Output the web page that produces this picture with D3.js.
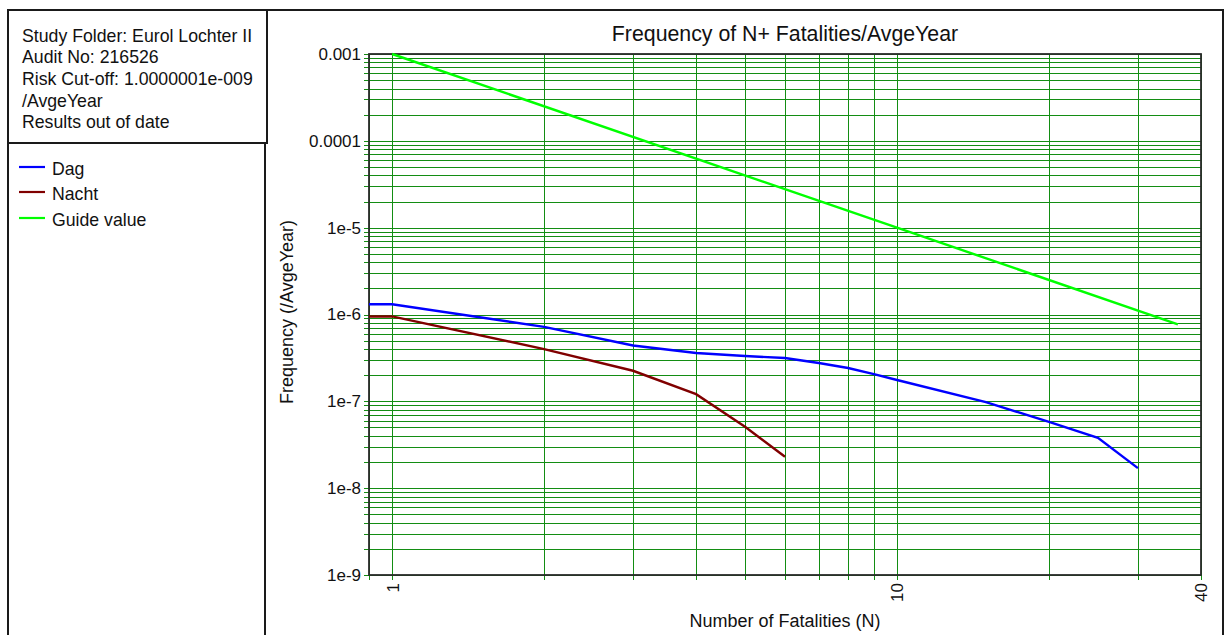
<!DOCTYPE html>
<html>
<head>
<meta charset="utf-8">
<script src="https://cdn.jsdelivr.net/npm/d3@7"></script>
<style>
  body { margin: 0; background: #fff; }
  svg { display: block; font-family: "Liberation Sans", Arial, sans-serif; }
</style>
</head>
<body>
<div id="container"></div>
<script>
/* DATA */
const dagN   = [0.9, 1, 2, 3, 4, 5, 6, 7, 8, 9, 10, 15, 20, 25, 30];
const dagF   = [1.31e-6, 1.31e-6, 7.2e-7, 4.4e-7, 3.6e-7, 3.33e-7, 3.15e-7, 2.76e-7, 2.42e-7, 2.06e-7, 1.76e-7, 9.8e-8, 5.8e-8, 3.8e-8, 1.7e-8];
const nachtN = [0.9, 1, 2, 3, 4, 5, 6];
const nachtF = [9.5e-7, 9.5e-7, 4.0e-7, 2.25e-7, 1.21e-7, 5.1e-8, 2.3e-8];
const guideN = [1, 10, 36];
const guideF = [1e-3, 1e-5, 7.7e-7];

const yLabelValues = [1e-9, 1e-8, 1e-7, 1e-6, 1e-5, 1e-4, 1e-3];
const yLabels      = ["1e-9", "1e-8", "1e-7", "1e-6", "1e-5", "0.0001", "0.001"];
const xLabelValues = [1, 10, 40];
const xLabels      = ["1", "10", "40"];

const seriesNames  = ["Dag", "Nacht", "Guide value"];
const seriesColors = ["#0000ff", "#800000", "#00ff00"];

const infoLines = ["Study Folder: Eurol Lochter II", "Audit No: 216526",
  "Risk Cut-off: 1.0000001e-009", "/AvgeYear", "Results out of date"];

/* CONSTANTS */
const width = 1229, height = 635;
const plot = { left: 369, right: 1201, top: 54, bottom: 575 };
const gridColor = "#138d13";

const svg = d3.select("#container").append("svg")
  .attr("width", width).attr("height", height);

// outer frame + side panels
svg.append("rect").attr("x", 8).attr("y", 10).attr("width", 1215).attr("height", 640)
  .attr("fill", "none").attr("stroke", "#1a1a1a").attr("stroke-width", 2);
svg.append("rect").attr("x", 8).attr("y", 10).attr("width", 259).attr("height", 133)
  .attr("fill", "none").attr("stroke", "#1a1a1a").attr("stroke-width", 2);
svg.append("rect").attr("x", 8).attr("y", 143).attr("width", 257).attr("height", 510)
  .attr("fill", "none").attr("stroke", "#1a1a1a").attr("stroke-width", 2);

svg.append("g").selectAll("text")
  .data(infoLines)
  .join("text")
  .attr("x", 22)
  .attr("y", (d, i) => 41.7 + i * 21.67)
  .style("font-size", "17.7px")
  .attr("fill", "#111")
  .text(d => d);

// legend
const legend = svg.append("g").selectAll("g")
  .data(seriesNames)
  .join("g")
  .attr("transform", (d, i) => `translate(0,${[167, 192, 218][i]})`);
legend.append("line")
  .attr("x1", 19).attr("x2", 45)
  .attr("stroke", (d, i) => seriesColors[i]).attr("stroke-width", 2.2);
legend.append("text")
  .attr("x", 52).attr("y", 7.5)
  .style("font-size", "17.7px").attr("fill", "#111")
  .text(d => d);

/* SCALES */
const xScale = d3.scaleLog().domain([0.9, 40]).range([plot.left, plot.right]);
const yScale = d3.scaleLog().domain([1e-9, 1e-3]).range([plot.bottom, plot.top]);

const labelFor = (vals, labels) => d => {
  const i = vals.findIndex(v => Math.abs(Math.log10(v) - Math.log10(d)) < 1e-6);
  return i >= 0 ? labels[i] : "";
};

// horizontal grid + y labels
const yAxis = svg.append("g")
  .attr("transform", `translate(${plot.left - 5},0)`)
  .call(d3.axisLeft(yScale)
    .tickValues(yScale.ticks())
    .tickSize(-(plot.right - plot.left + 5))
    .tickSizeOuter(0)
    .tickPadding(3)
    .tickFormat(labelFor(yLabelValues, yLabels)));
yAxis.select(".domain").remove();
yAxis.selectAll("line").attr("stroke", gridColor).attr("shape-rendering", "crispEdges");
yAxis.selectAll("text").style("font-size", "17px").attr("fill", "#111")
  .style("font-family", "'Liberation Sans', Arial, sans-serif");

// vertical grid + x labels
const xAxis = svg.append("g")
  .attr("transform", `translate(0,${plot.bottom + 5})`)
  .call(d3.axisBottom(xScale)
    .tickValues(xScale.ticks())
    .tickSize(-(plot.bottom - plot.top + 5))
    .tickSizeOuter(0)
    .tickFormat(labelFor(xLabelValues, xLabels)));
xAxis.select(".domain").remove();
xAxis.selectAll("line").attr("stroke", gridColor).attr("shape-rendering", "crispEdges");
xAxis.selectAll("text")
  .attr("transform", "rotate(-90)")
  .attr("text-anchor", "end")
  .attr("x", -3).attr("y", 0).attr("dy", "0.35em")
  .style("font-size", "17px").attr("fill", "#111")
  .style("font-family", "'Liberation Sans', Arial, sans-serif");

// plot frame
svg.append("rect")
  .attr("x", plot.left).attr("y", plot.top)
  .attr("width", plot.right - plot.left).attr("height", plot.bottom - plot.top)
  .attr("fill", "none").attr("stroke", "#2b2b2b").attr("stroke-width", 1.8);

/* LINES */
const line = d3.line().x(d => xScale(d[0])).y(d => yScale(d[1]));
const series = [
  dagN.map((n, i) => [n, dagF[i]]),
  nachtN.map((n, i) => [n, nachtF[i]]),
  guideN.map((n, i) => [n, guideF[i]])
];
svg.append("g").selectAll("path")
  .data(series)
  .join("path")
  .attr("d", line)
  .attr("fill", "none")
  .attr("stroke", (d, i) => seriesColors[i])
  .attr("stroke-width", 2.4);

/* TITLES */
svg.append("text")
  .attr("x", (plot.left + plot.right) / 2).attr("y", 41)
  .attr("text-anchor", "middle")
  .style("font-size", "21.3px").attr("fill", "#111")
  .text("Frequency of N+ Fatalities/AvgeYear");

svg.append("text")
  .attr("x", (plot.left + plot.right) / 2).attr("y", 627)
  .attr("text-anchor", "middle")
  .style("font-size", "18px").attr("fill", "#111")
  .text("Number of Fatalities (N)");

svg.append("text")
  .attr("transform", "translate(293,312) rotate(-90)")
  .attr("text-anchor", "middle")
  .style("font-size", "18px").attr("fill", "#111")
  .text("Frequency (/AvgeYear)");
</script>
</body>
</html>
